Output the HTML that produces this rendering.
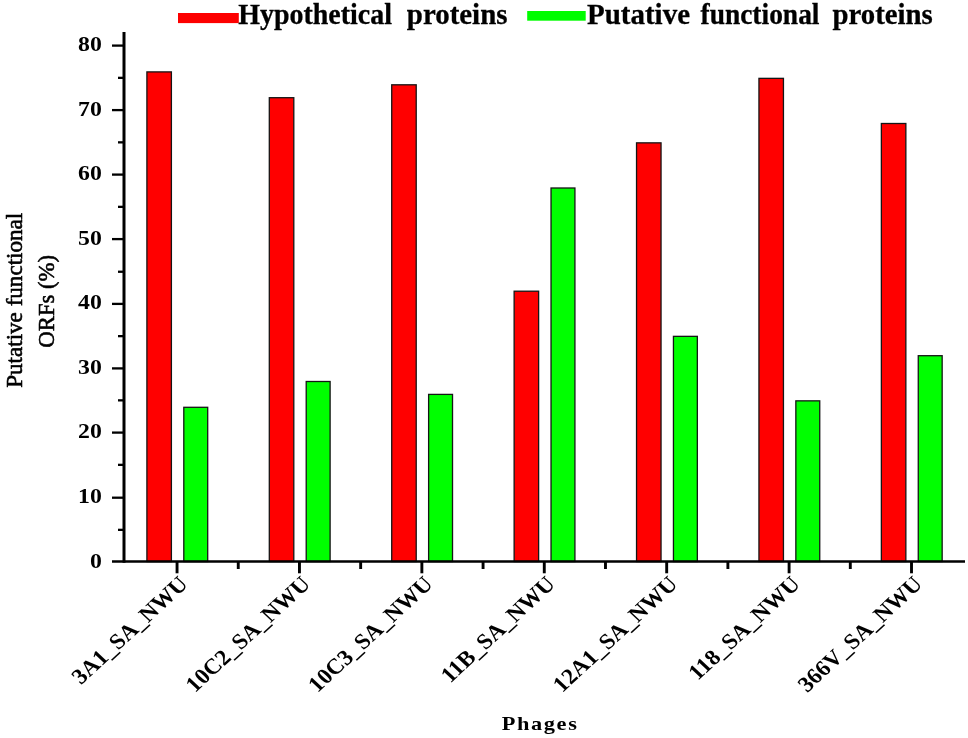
<!DOCTYPE html>
<html><head><meta charset="utf-8"><title>Phages chart</title>
<style>
html,body{margin:0;padding:0;background:#fff;}
svg{display:block;}
text{font-family:"Liberation Serif","Times New Roman",serif;fill:#000;}
.b{font-weight:bold;}
</style></head><body>
<svg width="968" height="738" viewBox="0 0 968 738">
<rect width="968" height="738" fill="#fff"/>
<rect x="146.90" y="71.90" width="24.5" height="489.60" fill="#ff0000" stroke="#151515" stroke-width="1.3"/>
<rect x="183.80" y="407.30" width="23.9" height="154.20" fill="#00ff00" stroke="#151515" stroke-width="1.3"/>
<rect x="269.31" y="97.70" width="24.5" height="463.80" fill="#ff0000" stroke="#151515" stroke-width="1.3"/>
<rect x="306.21" y="381.50" width="23.9" height="180.00" fill="#00ff00" stroke="#151515" stroke-width="1.3"/>
<rect x="391.72" y="84.80" width="24.5" height="476.70" fill="#ff0000" stroke="#151515" stroke-width="1.3"/>
<rect x="428.62" y="394.40" width="23.9" height="167.10" fill="#00ff00" stroke="#151515" stroke-width="1.3"/>
<rect x="514.13" y="291.20" width="24.5" height="270.30" fill="#ff0000" stroke="#151515" stroke-width="1.3"/>
<rect x="551.03" y="188.00" width="23.9" height="373.50" fill="#00ff00" stroke="#151515" stroke-width="1.3"/>
<rect x="636.54" y="142.85" width="24.5" height="418.65" fill="#ff0000" stroke="#151515" stroke-width="1.3"/>
<rect x="673.44" y="336.35" width="23.9" height="225.15" fill="#00ff00" stroke="#151515" stroke-width="1.3"/>
<rect x="758.95" y="78.35" width="24.5" height="483.15" fill="#ff0000" stroke="#151515" stroke-width="1.3"/>
<rect x="795.85" y="400.85" width="23.9" height="160.65" fill="#00ff00" stroke="#151515" stroke-width="1.3"/>
<rect x="881.36" y="123.50" width="24.5" height="438.00" fill="#ff0000" stroke="#151515" stroke-width="1.3"/>
<rect x="918.26" y="355.70" width="23.9" height="205.80" fill="#00ff00" stroke="#151515" stroke-width="1.3"/>
<g stroke="#000" fill="none" stroke-linecap="butt">
<line x1="124.0" y1="32" x2="124.0" y2="562.8" stroke-width="3"/>
<line x1="112" y1="561.5" x2="965" y2="561.5" stroke-width="2.7"/>
</g>
<g stroke="#000" stroke-width="2.3" fill="none">
<line x1="118" y1="529.85" x2="124.0" y2="529.85"/>
<line x1="112" y1="497.70" x2="124.0" y2="497.70"/>
<line x1="118" y1="464.85" x2="124.0" y2="464.85"/>
<line x1="112" y1="432.60" x2="124.0" y2="432.60"/>
<line x1="118" y1="400.35" x2="124.0" y2="400.35"/>
<line x1="112" y1="368.40" x2="124.0" y2="368.40"/>
<line x1="118" y1="336.15" x2="124.0" y2="336.15"/>
<line x1="112" y1="303.90" x2="124.0" y2="303.90"/>
<line x1="118" y1="271.75" x2="124.0" y2="271.75"/>
<line x1="112" y1="239.10" x2="124.0" y2="239.10"/>
<line x1="118" y1="206.85" x2="124.0" y2="206.85"/>
<line x1="112" y1="174.60" x2="124.0" y2="174.60"/>
<line x1="118" y1="142.35" x2="124.0" y2="142.35"/>
<line x1="112" y1="110.10" x2="124.0" y2="110.10"/>
<line x1="118" y1="77.85" x2="124.0" y2="77.85"/>
<line x1="112" y1="45.60" x2="124.0" y2="45.60"/>
<line x1="177.05" y1="561.5" x2="177.05" y2="573.3" stroke-width="2.9"/>
<line x1="238.25" y1="561.5" x2="238.25" y2="569" stroke-width="2.9"/>
<line x1="299.46" y1="561.5" x2="299.46" y2="573.3" stroke-width="2.9"/>
<line x1="360.66" y1="561.5" x2="360.66" y2="569" stroke-width="2.9"/>
<line x1="421.87" y1="561.5" x2="421.87" y2="573.3" stroke-width="2.9"/>
<line x1="483.07" y1="561.5" x2="483.07" y2="569" stroke-width="2.9"/>
<line x1="544.28" y1="561.5" x2="544.28" y2="573.3" stroke-width="2.9"/>
<line x1="605.48" y1="561.5" x2="605.48" y2="569" stroke-width="2.9"/>
<line x1="666.69" y1="561.5" x2="666.69" y2="573.3" stroke-width="2.9"/>
<line x1="727.89" y1="561.5" x2="727.89" y2="569" stroke-width="2.9"/>
<line x1="789.10" y1="561.5" x2="789.10" y2="573.3" stroke-width="2.9"/>
<line x1="850.30" y1="561.5" x2="850.30" y2="569" stroke-width="2.9"/>
<line x1="911.51" y1="561.5" x2="911.51" y2="573.3" stroke-width="2.9"/>
</g>
<text class="b" font-size="22" text-anchor="end" transform="translate(101.8,567.90) scale(1.08,1)">0</text>
<text class="b" font-size="22" text-anchor="end" transform="translate(101.8,502.70) scale(1.08,1)">10</text>
<text class="b" font-size="22" text-anchor="end" transform="translate(101.8,438.20) scale(1.08,1)">20</text>
<text class="b" font-size="22" text-anchor="end" transform="translate(101.8,373.70) scale(1.08,1)">30</text>
<text class="b" font-size="22" text-anchor="end" transform="translate(101.8,309.20) scale(1.08,1)">40</text>
<text class="b" font-size="22" text-anchor="end" transform="translate(101.8,244.70) scale(1.08,1)">50</text>
<text class="b" font-size="22" text-anchor="end" transform="translate(101.8,180.20) scale(1.08,1)">60</text>
<text class="b" font-size="22" text-anchor="end" transform="translate(101.8,115.70) scale(1.08,1)">70</text>
<text class="b" font-size="22" text-anchor="end" transform="translate(101.8,51.20) scale(1.08,1)">80</text>
<text class="b" font-size="22" text-anchor="end" transform="translate(189.25,585.2) scale(1.08,1) rotate(-45)">3A1_SA_NWU</text>
<text class="b" font-size="22" text-anchor="end" transform="translate(311.66,585.2) scale(1.08,1) rotate(-45)">10C2_SA_NWU</text>
<text class="b" font-size="22" text-anchor="end" transform="translate(434.07,585.2) scale(1.08,1) rotate(-45)">10C3_SA_NWU</text>
<text class="b" font-size="22" text-anchor="end" transform="translate(556.48,585.2) scale(1.08,1) rotate(-45)">11B_SA_NWU</text>
<text class="b" font-size="22" text-anchor="end" transform="translate(678.89,585.2) scale(1.08,1) rotate(-45)">12A1_SA_NWU</text>
<text class="b" font-size="22" text-anchor="end" transform="translate(801.30,585.2) scale(1.08,1) rotate(-45)">118_SA_NWU</text>
<text class="b" font-size="22" text-anchor="end" transform="translate(923.71,585.2) scale(1.08,1) rotate(-45)">366V_SA_NWU</text>
<g stroke="#000" stroke-width="0.55" stroke-linejoin="round">
<text font-size="22.6" text-anchor="middle" textLength="175" lengthAdjust="spacingAndGlyphs" transform="translate(21.5,300.3) scale(1.06,1) rotate(-90)">Putative functional</text>
<text font-size="22.6" text-anchor="middle" textLength="92.8" lengthAdjust="spacingAndGlyphs" transform="translate(54.3,301.3) scale(1.06,1) rotate(-90)">ORFs (%)</text>
</g>
<text class="b" font-size="19.3" transform="translate(501.8,729.6) scale(1.16,1)" textLength="64.7" lengthAdjust="spacing">Phages</text>
<rect x="178" y="13" width="60.8" height="10.1" fill="#fd0000"/>
<text class="b" font-size="30.3" x="238.2" y="23.5" textLength="153.8" lengthAdjust="spacingAndGlyphs" stroke="#000" stroke-width="0.3">Hypothetical</text>
<text class="b" font-size="30.3" x="406.8" y="23.5" textLength="100.7" lengthAdjust="spacingAndGlyphs" stroke="#000" stroke-width="0.3">proteins</text>
<rect x="527.2" y="11" width="58.5" height="9.7" fill="#00fd00"/>
<text class="b" font-size="30.3" x="587" y="23.5" textLength="103.0" lengthAdjust="spacingAndGlyphs" stroke="#000" stroke-width="0.3">Putative</text>
<text class="b" font-size="30.3" x="700.5" y="23.5" textLength="119.0" lengthAdjust="spacingAndGlyphs" stroke="#000" stroke-width="0.3">functional</text>
<text class="b" font-size="30.3" x="832.5" y="23.5" textLength="100.2" lengthAdjust="spacingAndGlyphs" stroke="#000" stroke-width="0.3">proteins</text>
</svg>
</body></html>
